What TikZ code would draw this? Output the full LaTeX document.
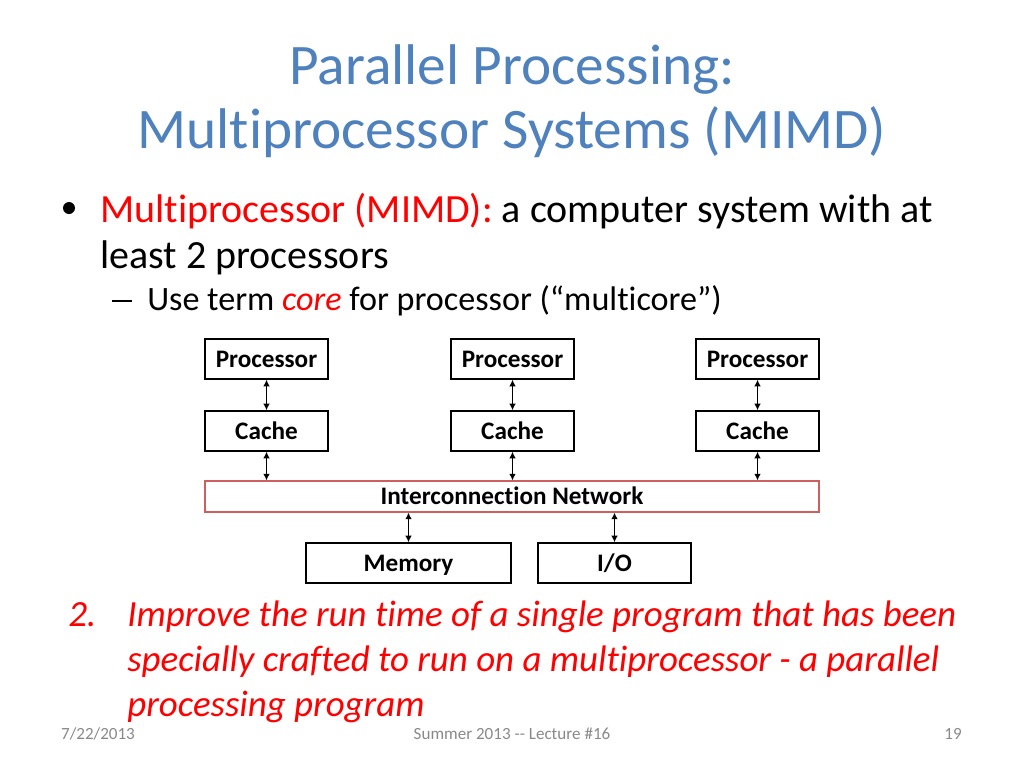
\documentclass[tikz,border=0pt]{standalone}
\usepackage{fontspec}
\setmainfont{Carlito}[Ligatures={NoCommon}]
\usetikzlibrary{arrows.meta}
\definecolor{titleblue}{RGB}{79,129,189}
\definecolor{slidered}{RGB}{255,0,0}
\definecolor{netred}{RGB}{205,95,95}
\definecolor{footgray}{RGB}{137,137,137}
\tikzset{
  txt/.style={inner sep=0pt, anchor=base west},
  titletxt/.style={inner sep=0pt, anchor=base, text=titleblue, font=\fontsize{43}{48}\selectfont},
  bodytxt/.style={txt, font=\fontsize{30}{34}\selectfont},
  subtxt/.style={txt, font=\fontsize{25.6}{30}\selectfont},
  itemtxt/.style={txt, text=slidered, font=\fontsize{27.7}{32}\selectfont\itshape},
  foottxt/.style={inner sep=0pt, anchor=base, text=footgray, font=\fontsize{12.8}{14}\selectfont},
  box/.style={draw=black, line width=1pt, inner sep=0pt, text height=12.2pt, text depth=0pt, font=\fontsize{18.9}{22}\selectfont\bfseries},
  netbox/.style={draw=netred, line width=0.8pt, inner sep=0pt, text height=12.2pt, text depth=0pt, font=\fontsize{18.9}{22}\selectfont\bfseries},
  link/.style={line width=1.2pt, {Latex[length=5pt,width=5pt]}-{Latex[length=5pt,width=5pt]}}
}
\begin{document}
\begin{tikzpicture}[x=0.75pt, y=-0.75pt]
\useasboundingbox (0,0) rectangle (1024,768);
% title
\node[titletxt] (t1) at (512,84) {Parallel Processing:};
\node[titletxt] (t2) at (512,148) {Multiprocessor Systems (MIMD)};
% bullet
\fill (69,208) circle[radius=4.5pt] coordinate (b0);
\node[bodytxt] (b1) at (100,222) {\textcolor{slidered}{Multiprocessor (MIMD):} a computer system with at};
\node[bodytxt] (b2) at (100,268) {least 2 processors};
\node[subtxt] (s0) at (112,310) {\rule[0.22em]{0.59em}{0.075em}};
\node[subtxt] (s1) at (147,310) {Use term \textcolor{slidered}{\itshape core} for processor (“multicore”)};
% diagram
\foreach \n/\x in {a/266.5,b/512.5,c/757.5}{
  \node[box, minimum width=123*0.75pt, minimum height=40*0.75pt] (p\n) at (\x,359) {Processor};
  \node[box, minimum width=123*0.75pt, minimum height=40*0.75pt] (c\n) at (\x,431) {Cache};
}
\node[netbox, minimum width=614*0.75pt, minimum height=31*0.75pt] (net) at (512,496.5) {Interconnection Network};
\node[box, minimum width=205*0.75pt, minimum height=40*0.75pt] (mem) at (408.5,563) {Memory};
\node[box, minimum width=153*0.75pt, minimum height=40*0.75pt] (io) at (614.5,563) {I/O};
\foreach \n in {a,b,c}{
  \draw[link] (p\n.south) -- (c\n.north);
  \draw[link] (c\n.south) -- (c\n.south |- net.north);
}
\draw[link] (net.south -| mem.north) -- (mem.north);
\draw[link] (net.south -| io.north) -- (io.north);
% numbered item
\node[itemtxt] (n0) at (68,626) {2.};
\node[itemtxt] (n1) at (127,626) {Improve the run time of a single program that has been};
\node[itemtxt] (n2) at (127,671) {specially crafted to run on a multiprocessor - a parallel};
\node[itemtxt] (n3) at (127,716) {processing program};
% footer
\node[foottxt] (f1) at (98,739) {7/22/2013};
\node[foottxt] (f2) at (512,739) {Summer 2013 -{}- Lecture \#16};
\node[foottxt] (f3) at (953,739) {19};
\end{tikzpicture}
\end{document}
